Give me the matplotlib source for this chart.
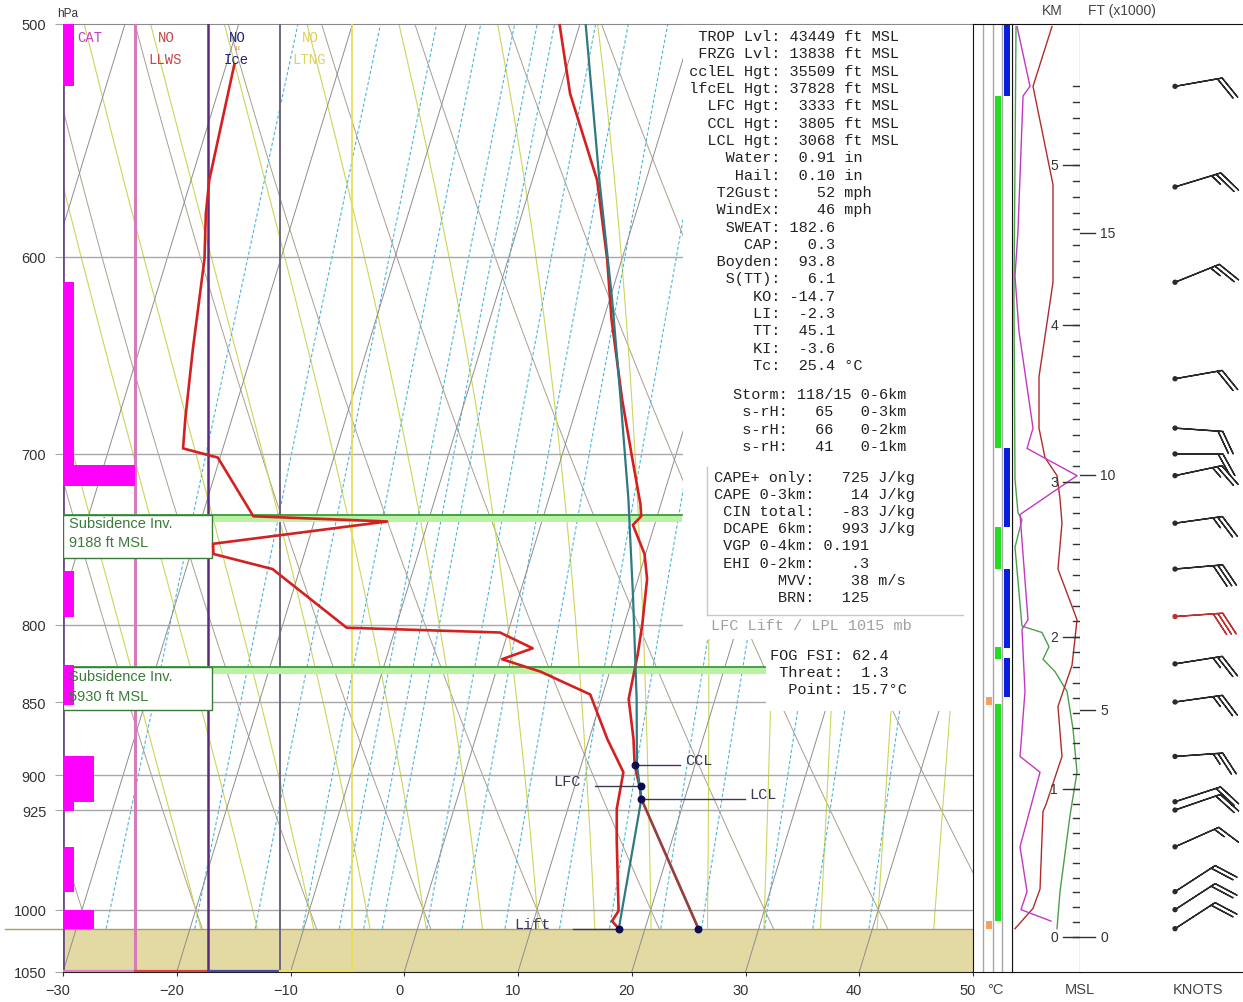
import numpy as np
import matplotlib
matplotlib.use("Agg")
import matplotlib.pyplot as plt
import matplotlib.transforms as mtrans
from matplotlib.patches import Rectangle
from matplotlib.ticker import NullLocator

W, H = 1243, 1003
SKEW = 34.3  # deg C of skew per ln(p)

# ---------------- sounding data (hPa, degC) ----------------
temp_p = [500, 528, 565, 601, 630, 671, 703, 728, 735, 740, 757, 772, 800, 819, 848, 875, 893, 908, 917, 1015]
temp_t = [-11.8, -9.0, -4.3, -1.3, 0.7, 3.8, 6.3, 8.2, 8.6, 8.1, 9.9, 10.8, 11.6, 12.0, 12.4, 13.9, 14.7, 15.7, 16.2, 24.7]

dew_p = [516, 565, 580, 601, 645, 681, 697, 702, 735, 738, 751, 757, 766, 802, 805, 815, 822, 830, 845,
         875, 898, 924, 946, 1001, 1009, 1015]
dew_t = [-39.3, -38.4, -37.8, -36.7, -35.3, -34.1, -33.5, -30.2, -25.5, -13.6, -28.3, -28.0, -22.4, -14.3, -0.7,
         2.6, 0.2, 3.9, 8.9, 11.6, 13.9, 14.3, 15.1, 17.2, 16.9, 17.7]

# lifted parcel
dry_p = [1015, 917]
dry_t = [24.7, 16.2]
pcl_p = [1015, 917, 893, 848, 784, 725, 670, 620, 565, 500]
pcl_t = [17.7, 16.2, 14.9, 13.1, 10.1, 7.0, 3.6, 0.2, -4.1, -9.5]

lpl_p = 1015
ccl = (893, 14.7)
lfc = (908, 15.8)
lcl = (917, 16.2)
lift = (1015, 17.7)
sfc = (1015, 24.7)

# turbulence (CAT) layers: top hPa, bottom hPa, intensity 1-3
cat_top = [500, 612, 706, 767, 826, 887, 919, 952, 1000]
cat_bot = [525, 706, 718, 795, 852, 919, 926, 986, 1015]
cat_int = [1, 1, 3, 1, 1, 2, 1, 1, 2]

# subsidence inversions
inv_p = [734, 827]
inv_ft = [9188, 5930]

# cloud / icing strip layers
strip_top = [500, 697, 766, 821, 529, 741, 814, 851, 847, 1009]
strip_bot = [529, 741, 815, 847, 697, 766, 822, 1009, 852, 1015]
strip_kind = ["blue", "blue", "blue", "blue", "green", "green", "green", "green", "orange", "orange"]

# side profiles (relative scale 0-100)
red_p = [501, 525, 567, 612, 659, 686, 702, 712, 725, 739, 766, 797, 809, 826, 853, 887, 921, 926, 984, 999, 1015]
red_v = [58.8, 30.9, 60.3, 60.3, 39.7, 39.7, 48.5, 66.2, 70.6, 73.5, 67.6, 95.6, 92.6, 88.2, 67.6, 73.5, 50.0,
         45.6, 41.2, 30.9, 4.4]
mag_p = [501, 525, 529, 588, 609, 636, 686, 697, 712, 734, 797, 803, 843, 887, 898, 952, 986, 1000, 1009]
mag_v = [7.4, 26.5, 16.2, 8.8, 4.4, 10.3, 30.9, 22.1, 95.6, 11.8, 23.5, 14.7, 19.1, 11.8, 41.2, 11.8, 22.1,
         13.2, 57.4]
grn_p = [501, 620, 714, 733, 737, 753, 801, 805, 814, 822, 830, 843, 868, 898, 929, 986, 1015]
grn_v = [5.9, 2.9, 4.4, 8.8, 14.7, 4.4, 14.7, 44.1, 54.4, 45.6, 63.2, 80.9, 89.7, 95.6, 85.3, 70.6, 66.2]

# height scale
km_levels = [0, 1, 2, 3, 4, 5, 5.5]
km_p = [1021.3, 909.8, 807.8, 715.5, 632.8, 558.3, 525.0]
kft_levels = [0, 5, 10, 15]
kft_p = [1021.3, 855.3, 711.6, 588.8]

# winds
wind_p = [525, 568, 612, 660, 686, 700, 712, 739, 766, 795, 825, 850, 887, 919, 925, 952, 986, 1000, 1015]
wind_dir = [80, 73, 68, 80, 94, 90, 78, 82, 85, 86, 81, 82, 86, 72, 71, 66, 57, 57, 57]
wind_spd = [20, 25, 25, 20, 20, 20, 25, 25, 30, 30, 25, 25, 25, 20, 20, 15, 20, 20, 20]
max_wind_p = 795

# indices panel
idx_names = ["TROP Lvl", "FRZG Lvl", "cclEL Hgt", "lfcEL Hgt", "LFC Hgt", "CCL Hgt", "LCL Hgt", "Water", "Hail",
             "T2Gust", "WindEx", "SWEAT", "CAP", "Boyden", "S(TT)", "KO", "LI", "TT", "KI", "Tc"]
idx_vals = ["43449", "13838", "35509", "37828", "3333", "3805", "3068", "0.91", "0.10", "52", "46", "182.6",
            "0.3", "93.8", "6.1", "-14.7", "-2.3", "45.1", "-3.6", "25.4"]
idx_units = ["ft MSL"] * 7 + ["in", "in", "mph", "mph"] + [""] * 8 + ["°C"]
storm_motion = "118/15"
srh_vals = [65, 66, 41]
srh_layers = ["0-3km", "0-2km", "0-1km"]
cape_names = ["CAPE+ only", "CAPE 0-3km", "CIN total", "DCAPE 6km", "VGP 0-4km", "EHI 0-2km", "MVV", "BRN"]
cape_vals = ["725", "14", "-83", "993", "0.191", ".3", "38", "125"]
cape_units = ["J/kg"] * 4 + ["", "", "m/s", ""]
fog_names = ["FOG FSI", "Threat", "Point"]
fog_vals = ["62.4", "1.3", "15.7°C"]

# mixing ratio lines, g/kg
mix_ratios = [0.4, 0.8, 1.25, 1.75, 2.25, 2.65, 3, 4, 5, 6.5, 9, 12, 16, 20, 28, 36, 48]


# ---------------- helpers ----------------
def skx(t, p):
    return np.asarray(t, float) + SKEW * np.log(1050.0 / np.asarray(p, float))


def box(x0, y0, x1, y1):
    return [x0 / W, 1 - y1 / H, (x1 - x0) / W, (y1 - y0) / H]


def ptext(x, y, s, **kw):
    kw.setdefault("va", "center")
    return fig.text(x / W, 1 - y / H, s, **kw)


def gamma_moist(T, p):
    Rd, cp, Lv, eps = 287.04, 1005.7, 2.501e6, 0.622
    es = 6.112 * np.exp(17.67 * (T - 273.15) / (T - 29.65))
    rs = eps * es / (p - es)
    return (Rd * T + Lv * rs) / (cp + Lv * Lv * rs * eps / (Rd * T * T))


def moist_path(t0, path):
    T = np.asarray(t0, float) + 273.15
    out = [T.copy()]
    for i in range(1, len(path)):
        d = np.log(path[i] / path[i - 1])
        k1 = gamma_moist(T, path[i - 1])
        k2 = gamma_moist(T + 0.5 * k1 * d, np.sqrt(path[i] * path[i - 1]))
        T = T + k2 * d
        out.append(T.copy())
    return np.array(out) - 273.15


MONO = "Liberation Mono"
SANS = "Liberation Sans"

fig = plt.figure(figsize=(W / 100, H / 100), dpi=100)

# ---------------- main skew-T ----------------
ax = fig.add_axes(box(63, 25, 973, 973))
ax.set_yscale("log")
ax.set_xlim(-30, 50)
ax.set_ylim(1050, 500)
ax.yaxis.set_minor_locator(NullLocator())
ax.set_yticks([500, 600, 700, 800, 850, 900, 925, 1000, 1050])
ax.set_yticklabels(["500", "600", "700", "800", "850", "900", "925", "1000", "1050"])
ax.set_xticks(range(-30, 51, 10))
ax.tick_params(axis="y", length=6, color="#a8a8a8", pad=6, labelsize=10.5, labelcolor="#333333")
ax.tick_params(axis="x", length=3, color="#333333", pad=5, labelsize=10.5, labelcolor="#333333")
for lab in ax.get_yticklabels() + ax.get_xticklabels():
    lab.set_fontfamily(SANS)
for lab in ax.get_xticklabels():
    lab.set_transform(lab.get_transform() + mtrans.ScaledTranslation(-0.05, 0, fig.dpi_scale_trans))
for s in ["left", "right"]:
    ax.spines[s].set_visible(False)
ax.spines["top"].set_color("#8a8a8a")
ax.spines["bottom"].set_color("#222222")

p_full = np.geomspace(1050, 500, 120)
p_sfc = np.geomspace(lpl_p, 500, 120)

# surface layer
ax.axhspan(lpl_p, 1050, color="#e3d9a3", zorder=1.2, lw=0)
ax.plot([-35.1, 50], [lpl_p, lpl_p], color="#a8a060", lw=1, clip_on=False, zorder=1.3)

# isotherms
for t in range(-100, 60, 10):
    ax.plot(skx(t, p_full), p_full, color="#8e8e8e", lw=0.7, zorder=2)
# dry adiabats
for t in range(-40, 90, 10):
    tt = (t + 273.15) * (p_sfc / 1000.0) ** 0.286 - 273.15
    ax.plot(skx(tt, p_sfc), p_sfc, color="#a89f8e", lw=0.7, zorder=1.6)
# moist adiabats
starts = np.arange(-20, 46, 5)
p_up = np.geomspace(1000, 500, 150)
p_dn = np.geomspace(1000, lpl_p, 8)
t_up = moist_path(starts, p_up)
t_dn = moist_path(starts, p_dn)
pm = np.concatenate([p_dn[::-1], p_up[1:]])
for j in range(len(starts)):
    tm = np.concatenate([t_dn[::-1, j], t_up[1:, j]])
    ax.plot(skx(tm, pm), pm, color="#cdd55a", lw=0.8, zorder=1.7)
# mixing ratio lines
for w in mix_ratios:
    e = w / 1000.0 * p_sfc / (0.622 + w / 1000.0)
    l = np.log(e / 6.112)
    td = 243.5 * l / (17.67 - l)
    ax.plot(skx(td, p_sfc), p_sfc, color="#4cb6d8", lw=0.8, ls=(0, (3, 2)), zorder=1.8)

# pressure lines
for p in [600, 700, 800, 850, 900, 925, 1000]:
    ax.axhline(p, color="#a8a8a8", lw=1, zorder=2.5)

# hazard columns
haz_x = [-30, -23.67, -17.25, -10.92, -4.59]
haz_c = ["#6a4a86", "#d77ab8", "#5e2a80", "#6c6484", "#e6dc50"]
haz_w = [2.0, 2.2, 1.8, 1.4, 1.2]
for x, c, lw in zip(haz_x, haz_c, haz_w):
    ax.axvline(x, color=c, lw=lw, zorder=3)
seg_c = ["#e080c0", "#e04040", "#4848a8", "#e8e060"]
for i in range(4):
    ax.plot([haz_x[i], haz_x[i + 1]], [1049, 1049], color=seg_c[i], lw=1.6, zorder=3.1)

# subsidence inversions
inv_end = [24.4, 31.8]
for p, xe, ft in zip(inv_p, inv_end, inv_ft):
    ax.fill_between([-30, xe], p, p * 1.0055, color="#b9f2a2", lw=0, zorder=3)
    ax.plot([-30, xe], [p, p], color="#3e9a3e", lw=1.3, zorder=3.2)
    ax.add_patch(Rectangle((-30, p), 13.1, p * 0.0345, facecolor="white", edgecolor="#3a7a3a",
                           lw=1, zorder=4))
ptext(69, 524, "Subsidence Inv.", color="#3a7a3a", fontsize=10.5, family=SANS, zorder=5)
ptext(69, 543, f"{inv_ft[0]} ft MSL", color="#3a7a3a", fontsize=10.5, family=SANS, zorder=5)
ptext(69, 677, "Subsidence Inv.", color="#3a7a3a", fontsize=10.5, family=SANS, zorder=5)
ptext(69, 697, f"{inv_ft[1]} ft MSL", color="#3a7a3a", fontsize=10.5, family=SANS, zorder=5)

# CAT bars
cat_w = {1: 0.97, 2: 2.75, 3: 6.33}
for pt, pb, k in zip(cat_top, cat_bot, cat_int):
    ax.add_patch(Rectangle((-30, pt), cat_w[k], pb - pt, facecolor="#ff00ff", edgecolor="none", zorder=6))

# profiles
ax.plot(skx(dew_t, dew_p), dew_p, color="#d42020", lw=1.9, zorder=7)
ax.plot(skx(temp_t, temp_p), temp_p, color="#d42020", lw=1.9, zorder=7)
ax.plot(skx(pcl_t, pcl_p), pcl_p, color="#2e7a80", lw=1.6, zorder=7.2)
ax.plot(skx(dry_t, dry_p), dry_p, color="#5a5a5a", lw=1.2, alpha=0.8, zorder=7.3)

mk_p = [ccl[0], lfc[0], lcl[0], lift[0], sfc[0]]
mk_t = [ccl[1], lfc[1], lcl[1], lift[1], sfc[1]]
ax.scatter(skx(mk_t, mk_p), mk_p, s=22, color="#0c0c55", zorder=8)

lead = "#3a3a58"
xc = float(skx(ccl[1], ccl[0]))
ax.plot([xc, xc + 4.0], [ccl[0]] * 2, color=lead, lw=1, zorder=7.5)
xf = float(skx(lfc[1], lfc[0]))
ax.plot([xf - 4.0, xf], [lfc[0]] * 2, color=lead, lw=1, zorder=7.5)
xl = float(skx(lcl[1], lcl[0]))
ax.plot([xl, xl + 9.1], [lcl[0]] * 2, color=lead, lw=1, zorder=7.5)
xs = float(skx(lift[1], lift[0]))
ax.plot([xs - 4.0, xs], [lift[0]] * 2, color=lead, lw=1, zorder=7.5)
ptext(685, 761, "CCL", family=MONO, fontsize=11, color=lead)
ptext(553, 782, "LFC", family=MONO, fontsize=11, color=lead)
ptext(749, 795, "LCL", family=MONO, fontsize=11, color=lead)
ptext(514, 925, "Lift", family=MONO, fontsize=11, color=lead)

# hazard labels
ptext(77, 38, "CAT", family=MONO, fontsize=10, color="#c040c0")
ptext(166, 38, "NO", family=MONO, fontsize=10, color="#c04848", ha="center")
ptext(165, 60, "LLWS", family=MONO, fontsize=10, color="#c04848", ha="center")
ptext(237, 38, "NO", family=MONO, fontsize=10, color="#222280", ha="center")
ptext(237, 48, "u", family=MONO, fontsize=6, color="#e08020", ha="center")
ptext(236, 60, "Ice", family=MONO, fontsize=10, color="#222280", ha="center")
ptext(310, 38, "NO", family=MONO, fontsize=10, color="#e0d060", ha="center")
ptext(309, 60, "LTNG", family=MONO, fontsize=10, color="#e0d060", ha="center")
ptext(57, 14, "hPa", family=SANS, fontsize=8.5, color="#333333")

# ---------------- text panels ----------------
fig.add_artist(Rectangle((683 / W, 1 - 640 / H), (973.5 - 683) / W, (640 - 26) / H, transform=fig.transFigure,
                         facecolor="white", edgecolor="none", zorder=1))
fig.add_artist(Rectangle((766 / W, 1 - 712 / H), (973.5 - 766) / W, (712 - 640) / H, transform=fig.transFigure,
                         facecolor="white", edgecolor="none", zorder=1))

txt = dict(family=MONO, fontsize=11, color="#222222", zorder=3)
for i, (n, v, u) in enumerate(zip(idx_names, idx_vals, idx_units)):
    ptext(680, 37 + i * 17.32, f"{n:>10}: {v:>5} {u}".rstrip(), **txt)
ptext(733, 395, f"Storm: {storm_motion} 0-6km", **txt)
for i, (v, l) in enumerate(zip(srh_vals, srh_layers)):
    ptext(733, 412.3 + i * 17.3, f" s-rH:   {v}   {l}", **txt)
for i, (n, v, u) in enumerate(zip(cape_names, cape_vals, cape_units)):
    ptext(714, 478 + i * 17.1, f"{n:>10}: {v:>5} {u}".rstrip(), **txt)
fig.add_artist(plt.Line2D([707 / W, 707 / W], [1 - 468 / H, 1 - 616 / H], color="#c8c8c8", lw=1, zorder=2))
fig.add_artist(plt.Line2D([707 / W, 963 / W], [1 - 616 / H, 1 - 616 / H], color="#c8c8c8", lw=1, zorder=2))
ptext(711, 626, f"LFC Lift / LPL {lpl_p} mb", family=MONO, fontsize=11, color="#a0a0a0", zorder=3)
for i, (n, v) in enumerate(zip(fog_names, fog_vals)):
    ptext(770, 656 + i * 17.2, f"{n:>7}: {v:>4}", **txt)

# ---------------- cloud strip ----------------
ax2 = fig.add_axes(box(973, 25, 1012, 973))
ax2.set_zorder(2)
ax2.set_yscale("log")
ax2.set_ylim(1050, 500)
ax2.set_xlim(0, 1)
ax2.set_xticks([])
ax2.set_yticks([])
ax2.yaxis.set_minor_locator(NullLocator())
for s in ax2.spines.values():
    s.set_color("#111111")
for xv in [0.256, 0.513, 0.744]:
    ax2.axvline(xv, color="#a8a8a8", lw=1)
col_x = {"orange": (0.333, "#f4a060"), "green": (0.564, "#22dd22"), "blue": (0.795, "#0a1ee0")}
for pt, pb, k in zip(strip_top, strip_bot, strip_kind):
    x0, c = col_x[k]
    ax2.add_patch(Rectangle((x0, pt), 0.154, pb - pt, facecolor=c, edgecolor="none"))
ptext(995, 990, "°C", family=SANS, fontsize=10.5, color="#444444", ha="center")

# ---------------- side profiles ----------------
ax3 = fig.add_axes(box(1012, 25, 1080, 973))
ax3.set_yscale("log")
ax3.set_ylim(1050, 500)
ax3.set_xlim(0, 100)
ax3.set_xticks([])
ax3.set_yticks([])
ax3.yaxis.set_minor_locator(NullLocator())
for s in ax3.spines.values():
    s.set_color("#111111")
ax3.plot(grn_v, grn_p, color="#4aa04a", lw=1)
ax3.plot(red_v, red_p, color="#b02c2c", lw=1)
ax3.plot(mag_v, mag_p, color="#c238c2", lw=1)
tr3 = ax3.get_yaxis_transform()
h100 = np.arange(0, 5.51, 0.1)
p100 = np.exp(np.interp(h100, km_levels, np.log(km_p)))
for p in p100:
    ax3.plot([0.897, 1.0], [p, p], color="#333333", lw=1, transform=tr3)
for k, p in zip(km_levels[:-1], km_p[:-1]):
    ax3.plot([0.75, 1.0], [p, p], color="#333333", lw=1, transform=tr3)
    ax3.text(0.676, p, str(k), transform=tr3, ha="right", va="center", fontsize=10, family=SANS, color="#333333")
ptext(1052, 11, "KM", family=SANS, fontsize=10, color="#444444", ha="center")
ptext(1080, 990, "MSL", family=SANS, fontsize=10.5, color="#444444", ha="center")

# ---------------- wind barbs ----------------
ax4 = fig.add_axes(box(1080, 25, 1243, 973))
ax4.set_yscale("log")
ax4.set_ylim(1050, 500)
ax4.set_xlim(0, 1)
ax4.set_xticks([])
ax4.set_yticks([])
ax4.yaxis.set_minor_locator(NullLocator())
ax4.spines["left"].set_visible(False)
ax4.spines["right"].set_visible(False)
for s in ["top", "bottom"]:
    ax4.spines[s].set_color("#111111")
tr4 = ax4.get_yaxis_transform()
for k, p in zip(kft_levels, kft_p):
    ax4.plot([0, 0.092], [p, p], color="#333333", lw=1, transform=tr4)
    ax4.text(0.123, p, str(k), transform=tr4, ha="left", va="center", fontsize=10, family=SANS, color="#333333")

wd = np.radians(wind_dir)
u = -np.array(wind_spd) * np.sin(wd)
v = -np.array(wind_spd) * np.cos(wd)
bc = ["#c03030" if p == max_wind_p else "#2a2a2a" for p in wind_p]
ax4.barbs(np.full(len(wind_p), 0.583), wind_p, u, v, length=8.3, pivot="tip", barbcolor=bc, flagcolor=bc,
          linewidth=1.0, sizes=dict(spacing=0.1, height=0.45, width=0.5, emptybarb=0.0), zorder=4)
ax4.scatter(np.full(len(wind_p), 0.583), wind_p, s=8, color=bc, zorder=5)
ptext(1122, 11, "FT (x1000)", family=SANS, fontsize=10, color="#444444", ha="center")
ptext(1198, 990, "KNOTS", family=SANS, fontsize=10.5, color="#444444", ha="center")

fig.savefig("out.png", dpi=100)
